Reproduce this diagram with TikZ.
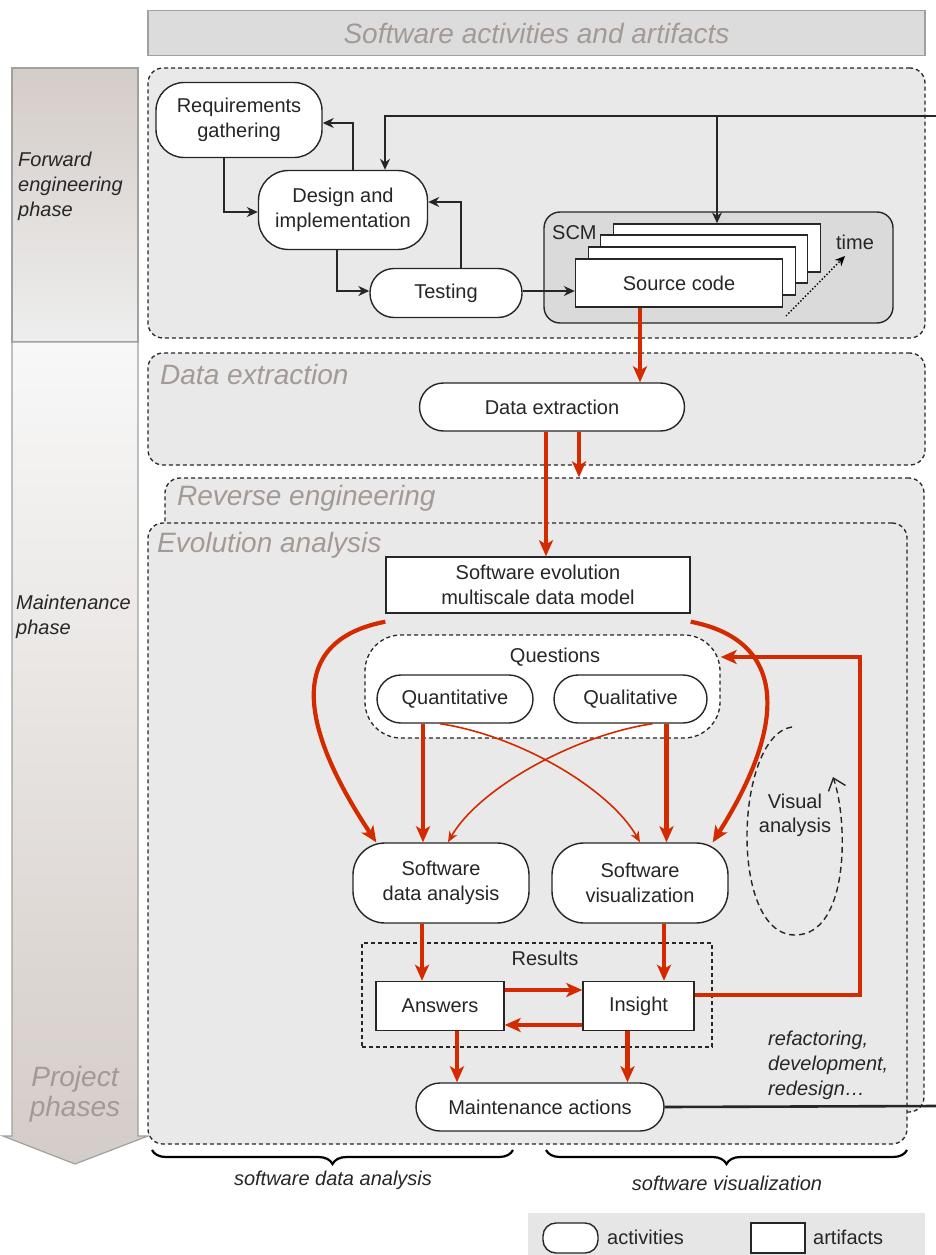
\documentclass[tikz,border=0pt]{standalone}
\usepackage{fontspec}
\setmainfont{Liberation Sans}
\usepackage{xcolor}
\definecolor{redc}{HTML}{D42A00}
\definecolor{secc}{HTML}{A39A96}
\definecolor{panelc}{HTML}{E9E9E9}
\definecolor{scmc}{HTML}{DADADA}
\definecolor{titlec}{HTML}{DCDCDC}
\definecolor{legc}{HTML}{E6E6E6}
\definecolor{edgec}{HTML}{A0A0A0}
\definecolor{phtop}{HTML}{D4CCC7}
\definecolor{phbot}{HTML}{EEEEEE}
\definecolor{matop}{HTML}{F8F8F8}
\definecolor{inkc}{HTML}{262626}
\usepackage{tikz}
\usetikzlibrary{arrows.meta,positioning,calc,decorations.pathreplacing}
\newcommand{\boxfont}{\fontsize{20}{25}\selectfont}
\newcommand{\bigitfont}{\itshape\fontsize{28}{30}\selectfont}
\tikzset{
  >={Stealth[length=11pt,width=10pt]},
  act/.style={draw=inkc,line width=1.4pt,fill=white,rounded corners=24pt,align=center,font=\boxfont,text=inkc,inner sep=2pt},
  art/.style={draw=inkc,line width=1.4pt,fill=white,align=center,font=\boxfont,text=inkc,inner sep=2pt},
  panel/.style={draw=inkc,dash pattern=on 4pt off 3pt,line width=1.3pt,fill=panelc,rounded corners=15pt,inner sep=0pt},
  group/.style={draw=inkc,dash pattern=on 4pt off 3pt,line width=1.3pt,inner sep=0pt},
  sect/.style={font=\bigitfont,text=secc,anchor=west,inner sep=0pt},
  lbl/.style={font=\boxfont,text=inkc,inner sep=0pt,align=left},
  fwd/.style={->,line width=2.6pt,draw=inkc},
  lnk/.style={->,line width=1.6pt,draw=inkc},
  redarr/.style={-{Stealth[length=16pt,width=14pt,inset=4pt]},draw=redc,line width=4.2pt},
  redthin/.style={-{Stealth[length=11pt,width=9pt]},draw=redc,line width=1.6pt},
  brc/.style={decorate,decoration={brace,amplitude=14pt,mirror},line width=2.2pt},
}

\begin{document}
\begin{tikzpicture}[x=1pt,y=-1pt]
  \useasboundingbox (0,0) rectangle (936,1255);
  % header and phase column
  \node[draw=edgec,line width=1.4pt,fill=titlec,minimum width=777pt,minimum height=45pt,inner sep=0pt,font=\bigitfont,text=secc] (title) at (536.5,33) {Software activities and artifacts};
  \shadedraw[top color=phtop,bottom color=phbot,draw=edgec,line width=1.2pt] (12,68) rectangle (138,342);
  \shadedraw[top color=matop,bottom color=phtop,draw=edgec,line width=1.2pt] (12,342) -- (138,342) -- (138,1136) -- (148,1136) -- (75,1164) -- (3,1136) -- (12,1136) -- cycle;
  \node[lbl,font=\boxfont\itshape,anchor=west] (fwdlbl) at (18,186) {Forward\\engineering\\phase};
  \node[lbl,font=\boxfont\itshape,anchor=west] (mntlbl) at (16,617) {Maintenance\\phase};
  \node[font=\bigitfont,text=secc,align=center,inner sep=0pt] (projlbl) at (75,1094) {Project\\phases};

  % panels
  \node[panel,minimum width=777pt,minimum height=270pt] (fwdp) at (536.5,203) {};
  \node[panel,minimum width=777pt,minimum height=112pt] (dxp) at (536.5,409) {};
  \node[panel,minimum width=759pt,minimum height=634pt] (revp) at (544.5,795) {};
  \node[panel,minimum width=759pt,minimum height=621pt] (evop) at (527.5,833.5) {};
  \node[sect] (dxlbl) at (160,374) {Data extraction};
  \node[sect] (revlbl) at (177,498) {Reverse engineering};
  \node[sect] (evolbl) at (157,545) {Evolution analysis};

  % forward engineering
  \node[act,minimum width=166pt,minimum height=75pt,rounded corners=28pt] (req) at (239,120) {Requirements\\gathering};
  \node[act,minimum width=169pt,minimum height=79pt,rounded corners=30pt] (des) at (343,210) {Design and\\implementation};
  \node[act,minimum width=152pt,minimum height=49pt] (tst) at (446,293) {Testing};
  \node[draw=inkc,line width=1.4pt,fill=scmc,rounded corners=16pt,minimum width=349pt,minimum height=111pt] (scm) at (718.5,267.5) {};
  \node[lbl,anchor=west] (scmlbl) at (552,233) {SCM};
  \node[art,minimum width=207pt,minimum height=48pt] (src3) at (717,248) {};
  \node[art,minimum width=207pt,minimum height=48pt] (src2) at (704,259) {};
  \node[art,minimum width=207pt,minimum height=48pt] (src1) at (692,271) {};
  \node[art,minimum width=207pt,minimum height=48pt] (src) at (679,283) {Source code};
  \node[lbl] (timelbl) at (855,242) {time};
  \coordinate (tm0) at (786,316);
  \coordinate (tm1) at (845,256);
  \draw[dotted,line width=1.4pt,-{Stealth[length=10pt,width=9pt]}] (tm0) -- (tm1);

  \coordinate (fbin) at (936,116);
  \draw[fwd] (fbin) -| ([xshift=42pt]des.north);
  \draw[lnk] (src3.north |- fbin) -- (src3.north);
  \draw[fwd] ([xshift=10pt]des.north) |- ([yshift=-3pt]req.east);
  \draw[fwd] ([xshift=-15pt]req.south) |- ([yshift=-2pt]des.west);
  \draw[fwd] ([xshift=-6pt]des.south) |- ([yshift=2pt]tst.west);
  \draw[fwd] ([xshift=15pt]tst.north) |- ([yshift=8pt]des.east);
  \draw[lnk] ([yshift=2pt]tst.east) -- ([yshift=2pt]tst.east -| src.west);

  % data extraction
  \node[act,minimum width=265pt,minimum height=48pt] (dx) at (552,407) {Data extraction};
  \coordinate (sx) at ([xshift=-39pt]src.south);
  \draw[redarr] (sx) -- (sx |- dx.north);

  % evolution analysis
  \node[art,minimum width=304pt,minimum height=56pt] (model) at (538,585) {Software evolution\\multiscale data model};
  \coordinate (dxa) at ([xshift=-6pt]dx.south);
  \coordinate (dxb) at ([xshift=27pt]dx.south);
  \draw[redarr] (dxa) -- (dxa |- model.north);
  \draw[redarr] (dxb) -- (dxb |- revp.north);

  \node[group,fill=white,rounded corners=36pt,minimum width=355pt,minimum height=103pt] (qbox) at (542.5,686.5) {};
  \node[lbl] (qlbl) at (555,657) {Questions};
  \node[act,minimum width=156pt,minimum height=48pt] (quan) at (455,699) {Quantitative};
  \node[act,minimum width=153pt,minimum height=48pt] (qual) at (630.5,699) {Qualitative};
  \node[act,minimum width=176pt,minimum height=80pt,rounded corners=32pt] (sda) at (441,883) {Software\\data analysis};
  \node[act,minimum width=176pt,minimum height=80pt,rounded corners=32pt] (sv) at (640,883) {Software\\visualization};

  \draw[redarr] ([yshift=-8pt]model.south west) .. controls (290,640) and (295,720) .. ([xshift=24pt]sda.north west);
  \draw[redarr] ([yshift=-8pt]model.south east) .. controls (785,640) and (790,720) .. ([xshift=-16pt]sv.north east);
  \coordinate (qa) at ([xshift=-32pt]quan.south);
  \coordinate (qb) at ([xshift=36pt]qual.south);
  \draw[redarr] (qa) -- (qa |- sda.north);
  \draw[redarr] (qb) -- (qb |- sv.north);
  \draw[redthin] ([xshift=-15pt]quan.south) .. controls +(80,12) and +(-30,-53) .. (sv.north);
  \draw[redthin] ([xshift=22pt]qual.south) .. controls +(-80,12) and +(30,-53) .. ([xshift=7pt]sda.north);

  \node[lbl,align=center,font=\fontsize{20}{24}\selectfont] (vis) at (795,815) {Visual\\analysis};
  \coordinate (va0) at (792,727);
  \coordinate (va1) at (795,935);
  \coordinate (va2) at (833,777);
  \draw[dash pattern=on 6pt off 4pt,line width=1.4pt,draw=inkc,-{Straight Barb[length=11pt,width=18pt]}] (va0) .. controls (735,735) and (728,935) .. (va1) .. controls (850,935) and (848,820) .. (va2);

  % results
  \node[group,minimum width=350pt,minimum height=104pt] (res) at (537,995) {};
  \node[lbl] (reslbl) at (545,958) {Results};
  \node[art,minimum width=128pt,minimum height=49pt] (ans) at (440,1006) {Answers};
  \node[art,minimum width=111pt,minimum height=49pt] (ins) at (638.5,1006) {Insight};
  \node[act,minimum width=248pt,minimum height=48pt] (mnt) at (540,1107) {Maintenance actions};

  \coordinate (sa) at ([xshift=-19pt]sda.south);
  \coordinate (sb) at ([xshift=24pt]sv.south);
  \draw[redarr] (sa) -- (sa |- ans.north);
  \draw[redarr] (sb) -- (sb |- ins.north);
  \coordinate (ai) at ([yshift=16pt]ans.east);
  \coordinate (ia) at ([yshift=-19pt]ins.west);
  \draw[redarr] (ai) -- (ai -| ins.west);
  \draw[redarr] (ia) -- (ia -| ans.east);
  \coordinate (am) at ([xshift=17pt]ans.south);
  \coordinate (im) at ([xshift=-11pt]ins.south);
  \draw[redarr] (am) -- (am |- mnt.north);
  \draw[redarr] (im) -- (im |- mnt.north);
  \coordinate (fbq) at (860,657);
  \draw[redarr] ([yshift=11pt]ins.east) -| (fbq) -- (fbq -| qbox.east);

  \coordinate (mout) at (936,1106);
  \draw[line width=2.6pt,draw=inkc] (mnt.east) -- (mout);
  \node[lbl,font=\boxfont\itshape,anchor=west] (refl) at (768,1065) {refactoring,\\development,\\redesign…};

  % braces
  \draw[brc] (152,1150) -- (513,1150);
  \draw[brc] (546,1150) -- (907,1150);
  \node[lbl,font=\boxfont\itshape] (bl1) at (333,1180) {software data analysis};
  \node[lbl,font=\boxfont\itshape] (bl2) at (727,1183) {software visualization};

  % legend
  \node[fill=legc,minimum width=397pt,minimum height=42pt,inner sep=0pt] (leg) at (726.5,1234) {};
  \node[act,rounded corners=13pt,minimum width=55pt,minimum height=30pt] (legact) at (570.5,1238) {};
  \node[lbl,anchor=west] (legacttxt) at (607,1237) {activities};
  \node[art,minimum width=54pt,minimum height=30pt] (legart) at (778,1238) {};
  \node[lbl,anchor=west] (legarttxt) at (813,1237) {artifacts};
\end{tikzpicture}
\end{document}
